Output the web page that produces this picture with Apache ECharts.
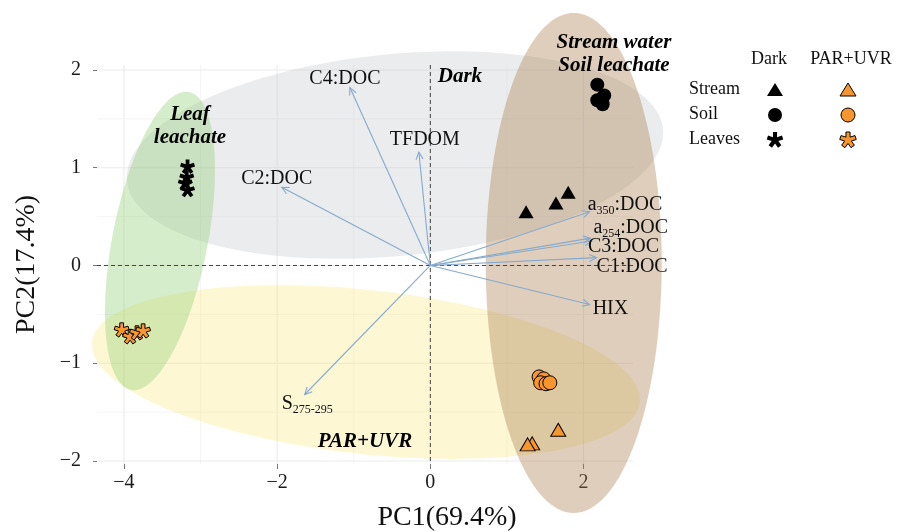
<!DOCTYPE html>
<html>
<head>
<meta charset="utf-8">
<script src="https://cdn.jsdelivr.net/npm/echarts@6/dist/echarts.min.js"></script>
<style>
  html, body { margin: 0; padding: 0; background: #fff; }
  #chart { width: 897px; height: 532px; }
</style>
</head>
<body>
<div id="chart"></div>
<script>
// ---- axes ----
const xTicks = [-4, -2, 0, 2];
const yTicks = [-2, -1, 0, 1, 2];
const xMinorGrid = [-3, -1, 1];
const yMinorGrid = [-1.5, -0.5, 0.5, 1.5];
const xRange = [-4.352, 2.646];
const yRange = [-2.031, 2.051];

// ---- samples (PC1, PC2) ----
const darkStreamX = [1.25, 1.64, 1.80];
const darkStreamY = [0.55, 0.64, 0.75];
const darkSoilX = [2.18, 2.27, 2.18, 2.25];
const darkSoilY = [1.85, 1.74, 1.69, 1.65];
const darkLeavesX = [-3.17, -3.18, -3.20, -3.17];
const darkLeavesY = [1.01, 0.90, 0.84, 0.77];
const lightStreamX = [1.67, 1.33, 1.27];
const lightStreamY = [-1.68, -1.82, -1.83];
const lightSoilX = [1.42, 1.48, 1.44, 1.51, 1.56];
const lightSoilY = [-1.14, -1.16, -1.20, -1.21, -1.20];
const lightLeavesX = [-4.03, -3.92, -3.83, -3.75];
const lightLeavesY = [-0.66, -0.73, -0.69, -0.67];

// ---- variable loadings ----
const loadingNames = ['C4:DOC', 'TFDOM', 'C2:DOC', 'a350:DOC', 'a254:DOC', 'C3:DOC', 'C1:DOC', 'HIX', 'S275-295'];
const loadingPC1 = [-1.05, -0.15, -1.94, 2.08, 2.09, 2.11, 2.17, 2.08, -1.64];
const loadingPC2 = [1.82, 1.16, 0.80, 0.55, 0.28, 0.25, 0.08, -0.40, -1.32];

// ---- group ellipses: centre and two conjugate semi-axes (PC units) ----
const ellipseGroups = ['Dark', 'PAR+UVR', 'Leaf leachate', 'Stream water / Soil leachate'];
const ellipseCenterX = [-0.462, -0.841, -3.530, 1.872];
const ellipseCenterY = [1.130, -1.090, 0.251, 0.026];
const ellipseMajorX = [3.499, 3.577, 0.379, 0.0];
const ellipseMajorY = [0.266, -0.307, 1.524, 2.558];
const ellipseMinorX = [-0.128, 0.116, 0.610, 1.149];
const ellipseMinorY = [1.028, 0.834, -0.093, 0.0];

// ---- in-panel annotations ----
const annotationText = ['Leaf\nleachate', 'Dark', 'Stream water\nSoil leachate', 'PAR+UVR'];
const annotationX = [-3.138, 0.386, 2.397, -0.854];
const annotationY = [1.427, 1.928, 2.164, -1.806];

// ---- styling ----
const SERIF = '"Liberation Serif", "Times New Roman", serif';
const ORANGE = '#f7962f';
const ARROW = '#86aacd';
const ellipseFill = ['rgba(190,195,198,0.32)', 'rgba(248,228,100,0.28)', 'rgba(140,205,110,0.36)', 'rgba(170,125,80,0.38)'];
// label anchor offsets (px) relative to each arrow tip
const loadingLabelPlacement = [
  [-5, -9, 'center'], [6, -12, 'center'], [-5, -9, 'center'],
  [-2, -7, 'left'], [3, -10, 'left'], [-4, 6, 'left'], [0, 9, 'left'],
  [3, 4, 'left'], [-23, 9, 'left']
];

// five-armed asterisk outline, centred on the origin, y pointing down
function asteriskPoints(arms, half, len) {
  const step = 2 * Math.PI / arms;
  const rin = half / Math.sin(step / 2);
  const pts = [];
  for (let i = 0; i < arms; i++) {
    const a = Math.PI / 2 + i * step;
    const b = a - step / 2;
    pts.push([rin * Math.cos(b), -rin * Math.sin(b)]);
    const ux = Math.cos(a), uy = Math.sin(a);
    const px = Math.sin(a), py = -Math.cos(a);
    pts.push([len * ux + half * px, -(len * uy + half * py)]);
    pts.push([len * ux - half * px, -(len * uy - half * py)]);
  }
  return pts;
}
const ASTERISK_PTS = asteriskPoints(5, 1.8, 7);
const ASTERISK = 'path://M' + ASTERISK_PTS.map(p => (p[0] + 8).toFixed(3) + ' ' + (p[1] + 8).toFixed(3)).join(' L') + ' Z';

function richLabel(name) {
  const m = name.match(/^([aS])(\d[\d-]*)(.*)$/);
  if (m) return '{m|' + m[1] + '}{s|' + m[2] + '}{m|' + m[3] + '}';
  return '{m|' + name + '}';
}
const minus = v => (v < 0 ? '\u2212' + Math.abs(v) : String(v));

const zip = (xs, ys) => xs.map((x, i) => [x, ys[i]]);

function gridLineItem(isVertical) {
  return function (params, api) {
    const cs = params.coordSys;
    const major = api.value(2) === 1;
    const p = api.coord([api.value(0), api.value(1)]);
    const shape = isVertical
      ? { x1: p[0], y1: cs.y, x2: p[0], y2: cs.y + cs.height }
      : { x1: cs.x, y1: p[1], x2: cs.x + cs.width, y2: p[1] };
    return { type: 'line', shape, style: { stroke: major ? '#ebebeb' : '#f1f1f1', lineWidth: major ? 1.1 : 0.8 } };
  };
}

function renderEllipse(params, api) {
  const i = params.dataIndex;
  const pts = [];
  const n = 160;
  for (let k = 0; k < n; k++) {
    const t = k / n * Math.PI * 2;
    const c = Math.cos(t), s = Math.sin(t);
    pts.push(api.coord([
      ellipseCenterX[i] + c * ellipseMajorX[i] + s * ellipseMinorX[i],
      ellipseCenterY[i] + c * ellipseMajorY[i] + s * ellipseMinorY[i]
    ]));
  }
  return { type: 'polygon', shape: { points: pts }, style: { fill: ellipseFill[i] } };
}

function renderZeroLines(params, api) {
  const cs = params.coordSys;
  const o = api.coord([0, 0]);
  const st = { stroke: '#444', lineWidth: 1, lineDash: [4, 3] };
  return {
    type: 'group', children: [
      { type: 'line', shape: { x1: cs.x, y1: o[1], x2: cs.x + cs.width, y2: o[1] }, style: st },
      { type: 'line', shape: { x1: o[0], y1: cs.y, x2: o[0], y2: cs.y + cs.height }, style: st }
    ]
  };
}

function renderArrow(params, api) {
  const i = params.dataIndex;
  const o = api.coord([0, 0]);
  const t = api.coord([api.value(0), api.value(1)]);
  const ang = Math.atan2(t[1] - o[1], t[0] - o[0]);
  const hl = 8, ha = 0.45;
  const h1 = [t[0] - hl * Math.cos(ang - ha), t[1] - hl * Math.sin(ang - ha)];
  const h2 = [t[0] - hl * Math.cos(ang + ha), t[1] - hl * Math.sin(ang + ha)];
  const pl = loadingLabelPlacement[i];
  return {
    type: 'group', children: [
      { type: 'line', shape: { x1: o[0], y1: o[1], x2: t[0], y2: t[1] }, style: { stroke: ARROW, lineWidth: 1.1 } },
      { type: 'polyline', shape: { points: [h1, t, h2] }, style: { stroke: ARROW, lineWidth: 1.1, fill: null } },
      {
        type: 'text', x: t[0] + pl[0], y: t[1] + pl[1],
        style: {
          text: richLabel(loadingNames[i]), align: pl[2], verticalAlign: 'middle',
          rich: {
            m: { fontFamily: SERIF, fontSize: 20, lineHeight: 24, fill: '#111', verticalAlign: 'middle' },
            s: { fontFamily: SERIF, fontSize: 12, lineHeight: 24, fill: '#111', verticalAlign: 'bottom' }
          }
        }
      }
    ]
  };
}

function sampleSeries(name, xs, ys, symbol, size, fill, stroke) {
  return {
    type: 'scatter', name, data: zip(xs, ys), symbol, symbolSize: size, symbolKeepAspect: true,
    itemStyle: { color: fill, borderColor: stroke || fill, borderWidth: stroke ? 1 : 0, opacity: 1 },
    z: 5, clip: false, silent: true
  };
}

const chart = echarts.init(document.getElementById('chart'));

const legendX = [775, 848];
const legendRowY = [90, 115, 140];
const legendRows = ['Stream', 'Soil', 'Leaves'];
const legendGraphics = [
  { type: 'text', x: 769, y: 59, style: { text: 'Dark', font: '18px ' + SERIF, fill: '#111', align: 'center', verticalAlign: 'middle' } },
  { type: 'text', x: 851, y: 59, style: { text: 'PAR+UVR', font: '18px ' + SERIF, fill: '#111', align: 'center', verticalAlign: 'middle' } }
];
legendRows.forEach((r, j) => {
  legendGraphics.push({ type: 'text', x: 689, y: legendRowY[j] - 1, style: { text: r, font: '18px ' + SERIF, fill: '#111', align: 'left', verticalAlign: 'middle' } });
});
legendX.forEach((x, c) => {
  const fill = c === 0 ? '#000' : ORANGE;
  const stroke = '#000';
  const lw = c === 0 ? 0 : 1;
  const y = legendRowY;
  legendGraphics.push({ type: 'polygon', shape: { points: [[x, y[0] - 7], [x + 8, y[0] + 6], [x - 8, y[0] + 6]] }, style: { fill, stroke, lineWidth: lw } });
  legendGraphics.push({ type: 'circle', shape: { cx: x, cy: y[1], r: 7 }, style: { fill, stroke, lineWidth: lw } });
  const s = 16 / 14;
  legendGraphics.push({ type: 'polygon', shape: { points: ASTERISK_PTS.map(p => [x + p[0] * s, y[2] + p[1] * s]) }, style: { fill, stroke, lineWidth: lw } });
});

chart.setOption({
  animation: false,
  grid: { left: 97, right: 264, top: 65, bottom: 68, containLabel: false, outerBoundsMode: 'none' },
  xAxis: {
    type: 'value', min: xRange[0], max: xRange[1],
    splitLine: { show: false }, axisLine: { show: false, onZero: false },
    axisTick: { show: true, customValues: xTicks, length: 5, lineStyle: { color: '#777' } },
    axisLabel: { customValues: xTicks, formatter: minus, margin: 9, fontSize: 20, fontFamily: SERIF, color: '#1a1a1a' },
    name: 'PC1(69.4%)', nameLocation: 'middle', nameGap: 40,
    nameTextStyle: { fontSize: 28, fontFamily: SERIF, color: '#111', padding: [0, 0, 0, 164] }
  },
  yAxis: {
    type: 'value', min: yRange[0], max: yRange[1],
    splitLine: { show: false }, axisLine: { show: false, onZero: false },
    axisTick: { show: true, customValues: yTicks, length: 4, lineStyle: { color: '#777' } },
    axisLabel: { customValues: yTicks, formatter: minus, margin: 16, fontSize: 20, fontFamily: SERIF, color: '#1a1a1a' },
    name: 'PC2(17.4%)', nameLocation: 'middle', nameGap: 56,
    nameTextStyle: { fontSize: 28, fontFamily: SERIF, color: '#111' }
  },
  graphic: legendGraphics,
  series: [
    {
      type: 'custom', name: 'vgrid', z: 1, silent: true,
      data: xTicks.map(v => [v, 0, 1]).concat(xMinorGrid.map(v => [v, 0, 0])),
      encode: { x: 0, y: 1 }, renderItem: gridLineItem(true)
    },
    {
      type: 'custom', name: 'hgrid', z: 1, silent: true,
      data: yTicks.map(v => [0, v, 1]).concat(yMinorGrid.map(v => [0, v, 0])),
      encode: { x: 0, y: 1 }, renderItem: gridLineItem(false)
    },
    {
      type: 'custom', name: 'ellipses', z: 2, silent: true, clip: false,
      data: zip(ellipseCenterX, ellipseCenterY), encode: { x: 0, y: 1 }, renderItem: renderEllipse
    },
    {
      type: 'custom', name: 'zero', z: 3, silent: true,
      data: [[0, 0]], encode: { x: 0, y: 1 }, renderItem: renderZeroLines
    },
    {
      type: 'custom', name: 'loadings', z: 4, silent: true, clip: false,
      data: zip(loadingPC1, loadingPC2), encode: { x: 0, y: 1 }, renderItem: renderArrow
    },
    sampleSeries('Dark Stream', darkStreamX, darkStreamY, 'triangle', [15, 13], '#000'),
    sampleSeries('Dark Soil', darkSoilX, darkSoilY, 'circle', 14, '#000'),
    sampleSeries('Dark Leaves', darkLeavesX, darkLeavesY, ASTERISK, 15, '#000'),
    sampleSeries('PAR+UVR Stream', lightStreamX, lightStreamY, 'triangle', [15, 13], ORANGE, '#000'),
    sampleSeries('PAR+UVR Soil', lightSoilX, lightSoilY, 'circle', 14, ORANGE, '#000'),
    sampleSeries('PAR+UVR Leaves', lightLeavesX, lightLeavesY, ASTERISK, 15, ORANGE, '#000'),
    {
      type: 'scatter', name: 'annotations', z: 6, silent: true, clip: false,
      data: zip(annotationX, annotationY), symbolSize: 0,
      itemStyle: { opacity: 1 },
      label: {
        show: true, position: 'inside', formatter: p => annotationText[p.dataIndex],
        fontFamily: SERIF, fontStyle: 'italic', fontWeight: 'bold', fontSize: 21, lineHeight: 23,
        color: '#000', textBorderWidth: 0, textShadowBlur: 0
      }
    }
  ]
});
</script>
</body>
</html>
